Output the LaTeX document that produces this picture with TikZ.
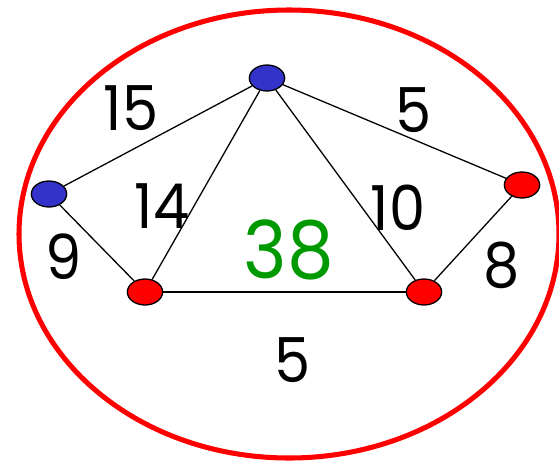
\documentclass[tikz,border=0pt]{standalone}
\usepackage{fontspec}
\setmainfont{Poppins}
\usepackage{xcolor}
\usetikzlibrary{positioning, shapes.geometric}

\definecolor{vblue}{RGB}{51,51,204}
\definecolor{vred}{RGB}{255,0,0}
\definecolor{wgreen}{RGB}{0,153,0}

\begin{document}
\begin{tikzpicture}[
  x=0.03cm, y=-0.03cm,
  vertex/.style={
    ellipse, draw, line width=1.1pt,
    minimum width=1.06cm, minimum height=0.78cm, inner sep=0pt
  },
  bluev/.style={vertex, fill=vblue},
  redv/.style={vertex, fill=vred},
  link/.style={line width=1.1pt},
  weight/.style={font=\fontsize{49}{49}\selectfont, transform shape, yscale=1.08}
]
\useasboundingbox (0,0) rectangle (559,465);

% enclosing cut
\draw[vred, line width=4.3pt] (289,234) ellipse [x radius=270, y radius=224];

% vertices
\node[bluev] (top) at (267,78) {};
\node[bluev] (left) at (49,194) {};
\node[redv] (botl) at (145,292) {};
\node[redv] (botr) at (424,292) {};
\node[redv] (right) at (522,185) {};

% edges
\draw[link] (top) -- (left);
\draw[link] (top) -- (botl);
\draw[link] (top) -- (botr);
\draw[link] (top) -- (right);
\draw[link] (left) -- (botl);
\draw[link] (botl) -- (botr);
\draw[link] (botr) -- (right);

% edge weights
\node[weight] (w15) at (131,108) {15};
\node[weight] (w5a) at (414,110) {5};
\node[weight] (w14) at (162,206) {14};
\node[weight] (w10) at (398,208) {10};
\node[weight] (w9) at (64,257) {9};
\node[weight] (w8) at (502,265) {8};
\node[weight] (w5b) at (293,360) {5};

% total
\node[weight, text=wgreen, font=\fontsize{63}{63}\selectfont] (total) at (289,250) {38};
\end{tikzpicture}
\end{document}
